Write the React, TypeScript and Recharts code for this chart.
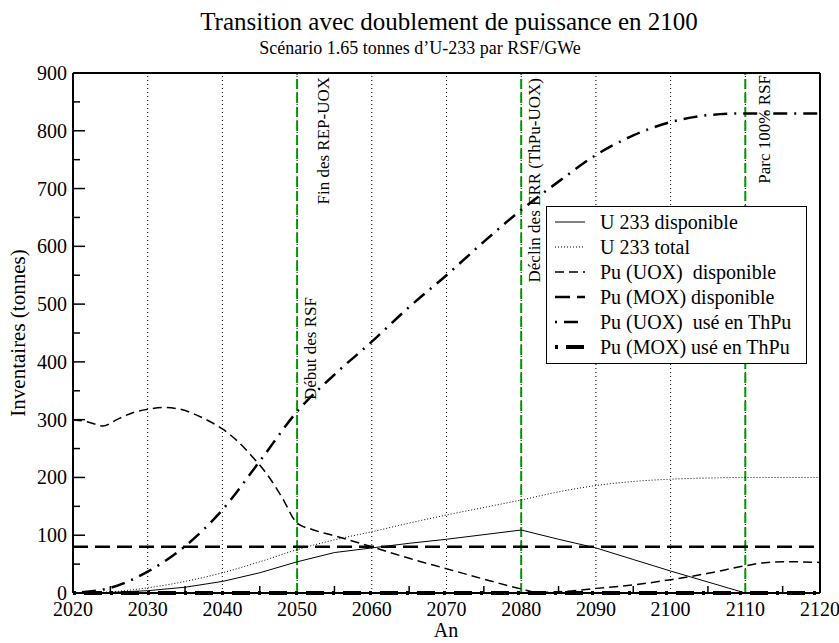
import React from 'react';
import { LineChart, Line, XAxis, YAxis, ReferenceLine, Legend } from 'recharts';

// values (tonnes)
const years = [2020, 2025, 2030, 2035, 2040, 2045, 2050, 2055, 2060, 2065, 2070, 2075, 2080, 2085, 2090, 2095, 2100, 2105, 2110, 2115, 2120];
const u233Dispo = [0, 1, 4, 10, 20, 35, 54, 70, 78, 86, 93, 101, 109, 93, 78, 58, 38, 19, 0, 0, 0];
const u233Total = [0, 2, 9, 20, 35, 54, 75, 92, 106, 121, 135, 148, 161, 175, 186, 193, 197, 199, 200, 200, 200];
const puMoxDispo = [80, 80, 80, 80, 80, 80, 80, 80, 80, 80, 80, 80, 80, 80, 80, 80, 80, 80, 80, 80, 80];
const puUoxUse = [0, 9, 37, 81, 144, 228, 314, 378, 435, 495, 550, 608, 663, 712, 758, 792, 815, 827, 830, 830, 830];
const puMoxUse = [0, 0, 0, 0, 0, 0, 0, 0, 0, 0, 0, 0, 0, 0, 0, 0, 0, 0, 0, 0, 0];

const puUoxDispoYears = [2020, 2022, 2024, 2026, 2028, 2030, 2032, 2034, 2036, 2038, 2040, 2042, 2044, 2046, 2048, 2050, 2052, 2055, 2060, 2065, 2070, 2075, 2080, 2082, 2085, 2090, 2095, 2100, 2105, 2110, 2113, 2116, 2120];
const puUoxDispo = [300, 296, 289, 301, 312, 318, 321, 319, 311, 299, 284, 263, 236, 205, 165, 121, 110, 99, 80, 60, 42, 24, 7, 1, 2, 8, 14, 23, 34, 47, 53, 54, 53];

const xTicks = [2020, 2025, 2030, 2035, 2040, 2045, 2050, 2055, 2060, 2065, 2070, 2075, 2080, 2085, 2090, 2095, 2100, 2105, 2110, 2115, 2120];
const yTicks = [0, 50, 100, 150, 200, 250, 300, 350, 400, 450, 500, 550, 600, 650, 700, 750, 800, 850, 900];
const gridYears = [2030, 2040, 2050, 2060, 2070, 2080, 2090, 2100, 2110];
const eventYears = [2050, 2080, 2110];
const eventLabels = [['Fin des REP-UOX', 'Début des RSF'], ['Déclin des ERR (ThPu-UOX)'], ['Parc 100% RSF']];

const seriesNames = [
  'U 233 disponible',
  'U 233 total',
  'Pu (UOX)  disponible',
  'Pu (MOX) disponible',
  'Pu (UOX)  usé en ThPu',
  'Pu (MOX) usé en ThPu',
];

const FONT = '"Liberation Serif", "Times New Roman", serif';
const GREEN = '#009a00';

const pts = (xs: number[], ys: number[]) => xs.map((x, i) => ({ x, y: ys[i] }));

const lineStyles = [
  { width: 1, dash: undefined as string | undefined },
  { width: 1, dash: '1 2' },
  { width: 1.5, dash: '9 5' },
  { width: 2.5, dash: '15 7' },
  { width: 2.5, dash: '2 7 14 7' },
  { width: 4, dash: '3 8 18 8' },
];

const seriesData = [
  pts(years, u233Dispo),
  pts(years, u233Total),
  pts(puUoxDispoYears, puUoxDispo),
  pts(years, puMoxDispo),
  pts(years, puUoxUse),
  pts(years, puMoxUse),
];

const BottomTick = (props: any) => {
  const { x, y, payload } = props;
  const v = payload.value;
  if (v % 10 !== 0) {
    return <line x1={x} x2={x} y1={y} y2={y - 7} stroke="#000" strokeWidth={1.5} />;
  }
  return (
    <text x={x} y={y + 23} textAnchor="middle" fontSize={20} fontFamily={FONT} fill="#000">
      {v}
    </text>
  );
};

const TopTick = (props: any) => {
  const { x, y, payload } = props;
  if (payload.value % 10 === 0) return <g />;
  return <line x1={x} x2={x} y1={y} y2={y + 7} stroke="#000" strokeWidth={1.5} />;
};

const LeftTick = (props: any) => {
  const { x, y, payload } = props;
  const major = payload.value % 100 === 0;
  return (
    <g>
      <line x1={x} x2={x + (major ? 12 : 7)} y1={y} y2={y} stroke="#000" strokeWidth={1.5} />
      {major && (
        <text x={x - 6} y={y + 7} textAnchor="end" fontSize={20} fontFamily={FONT} fill="#000">
          {payload.value}
        </text>
      )}
    </g>
  );
};

const RightTick = (props: any) => {
  const { x, y, payload } = props;
  const major = payload.value % 100 === 0;
  return <line x1={x} x2={x - (major ? 12 : 7)} y1={y} y2={y} stroke="#000" strokeWidth={1.5} />;
};

// offsets of the rotated event labels: [dx from line, dy from plot top, anchor]
const labelPlace: [number, number, 'start' | 'end'][][] = [
  [[32, 4, 'end'], [19, 327, 'start']],
  [[19, 5, 'end']],
  [[25, 2, 'end']],
];

const eventLabel = (idx: number) => (props: any) => {
  const vb = props.viewBox || {};
  return (
    <g>
      {eventLabels[idx].map((t, j) => {
        const [dx, dy, anchor] = labelPlace[idx][j];
        const lx = vb.x + dx;
        const ly = vb.y + dy;
        return (
          <text
            key={t}
            x={lx}
            y={ly}
            transform={`rotate(-90 ${lx} ${ly})`}
            textAnchor={anchor}
            fontSize={17}
            fontFamily={FONT}
            fill="#000"
          >
            {t}
          </text>
        );
      })}
    </g>
  );
};

const renderLegend = () => (
  <div style={{ border: '1.5px solid #000', background: '#fff', width: 259, height: 156 }}>
    <svg width={259} height={156} style={{ display: 'block' }}>
      {seriesNames.map((name, i) => {
        const cy = 15 + i * 25;
        return (
          <g key={name}>
            <line x1={8} x2={38} y1={cy} y2={cy} stroke="#000" strokeWidth={lineStyles[i].width} strokeDasharray={lineStyles[i].dash} />
            <text x={53} y={cy + 7} fontSize={20} fontFamily={FONT} fill="#000" style={{ whiteSpace: 'pre' }}>
              {name}
            </text>
          </g>
        );
      })}
    </svg>
  </div>
);

export default function App() {
  return (
    <div style={{ position: 'absolute', left: 0, top: 0, width: 839, height: 643, background: '#fff' }}>
      <LineChart width={839} height={643} margin={{ top: 72, right: 18, bottom: 0, left: 0 }}>
        <XAxis
          dataKey="x"
          type="number"
          domain={[2020, 2120]}
          ticks={xTicks}
          interval={0}
          height={50}
          tickSize={0}
          tickMargin={0}
          tickLine={false}
          tick={<BottomTick />}
          axisLine={{ stroke: '#000', strokeWidth: 2 }}
          allowDuplicatedCategory={false}
        />
        <XAxis
          xAxisId="top"
          orientation="top"
          dataKey="x"
          type="number"
          domain={[2020, 2120]}
          ticks={xTicks}
          interval={0}
          height={1}
          tickSize={0}
          tickMargin={0}
          tickLine={false}
          tick={<TopTick />}
          axisLine={{ stroke: '#000', strokeWidth: 2 }}
        />
        <YAxis
          type="number"
          domain={[0, 900]}
          ticks={yTicks}
          interval={0}
          width={73}
          tickSize={0}
          tickMargin={0}
          tickLine={false}
          tick={<LeftTick />}
          axisLine={{ stroke: '#000', strokeWidth: 2 }}
        />
        <YAxis
          yAxisId="right"
          orientation="right"
          type="number"
          domain={[0, 900]}
          ticks={yTicks}
          interval={0}
          width={1}
          tickSize={0}
          tickMargin={0}
          tickLine={false}
          tick={<RightTick />}
          axisLine={{ stroke: '#000', strokeWidth: 2 }}
        />
        {gridYears.map((yr) => (
          <ReferenceLine key={`g${yr}`} x={yr} stroke="#000" strokeWidth={1} strokeDasharray="1 3" />
        ))}
        {eventYears.map((yr, i) => (
          <ReferenceLine key={`e${yr}`} x={yr} stroke={GREEN} strokeWidth={2} strokeDasharray="10 4" label={eventLabel(i)} />
        ))}
        {seriesNames.map((name, i) => (
          <Line
            key={name}
            name={name}
            data={seriesData[i]}
            dataKey="y"
            type={i === 0 || i === 3 || i === 5 ? 'linear' : 'monotone'}
            stroke="#000"
            strokeWidth={lineStyles[i].width}
            strokeDasharray={lineStyles[i].dash}
            dot={false}
            activeDot={false}
            isAnimationActive={false}
          />
        ))}
        <Legend
          layout="vertical"
          align="center"
          verticalAlign="middle"
          content={renderLegend}
          wrapperStyle={{ left: 546, top: 206, width: 262, height: 159 }}
        />
      </LineChart>
      <svg width={839} height={643} style={{ position: 'absolute', left: 0, top: 0, pointerEvents: 'none' }}>
        <text x={449} y={30} textAnchor="middle" fontSize={25} fontFamily={FONT} fill="#000">
          Transition avec doublement de puissance en 2100
        </text>
        <text x={420} y={54} textAnchor="middle" fontSize={18} fontFamily={FONT} fill="#000">
          Scénario 1.65 tonnes d’U-233 par RSF/GWe
        </text>
        <text x={25} y={333} transform="rotate(-90 25 333)" textAnchor="middle" fontSize={21} fontFamily={FONT} fill="#000">
          Inventaires (tonnes)
        </text>
        <text x={446} y={637} textAnchor="middle" fontSize={20} fontFamily={FONT} fill="#000">
          An
        </text>
      </svg>
    </div>
  );
}
